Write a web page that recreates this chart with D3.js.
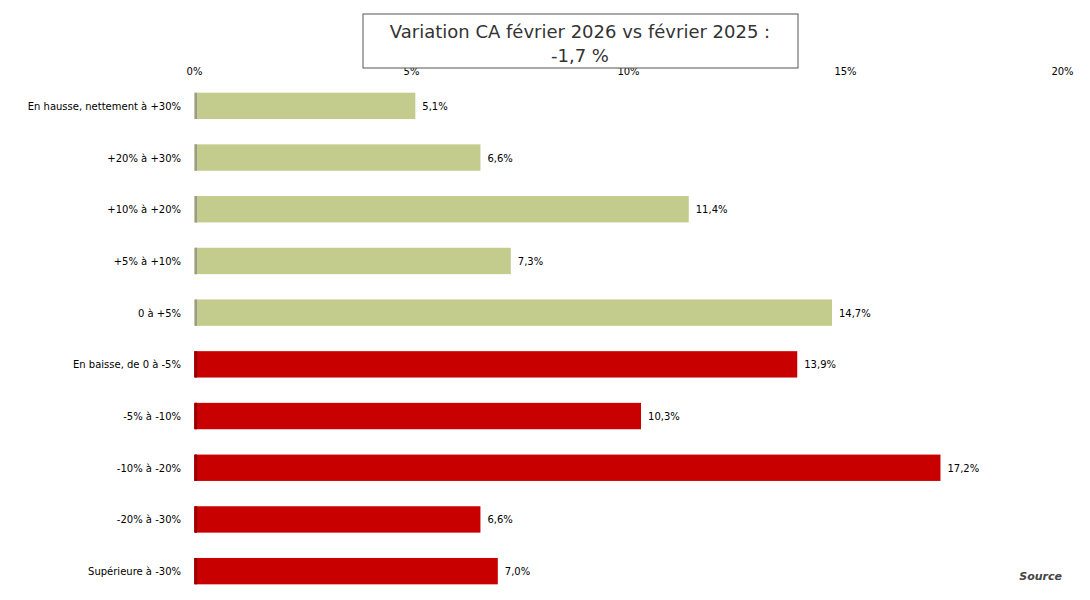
<!DOCTYPE html><html><head><meta charset="utf-8"><script src="https://cdn.jsdelivr.net/npm/d3@7"></script>
<style>body{margin:0;background:#fff}</style></head><body><svg id="c" width="1090" height="600"></svg><script>
const categories=["En hausse, nettement à +30%","+20% à +30%","+10% à +20%","+5% à +10%","0 à +5%","En baisse, de 0 à -5%","-5% à -10%","-10% à -20%","-20% à -30%","Supérieure à -30%"];
const values=[5.1,6.6,11.4,7.3,14.7,13.9,10.3,17.2,6.6,7.0];
const labels=["5,1%","6,6%","11,4%","7,3%","14,7%","13,9%","10,3%","17,2%","6,6%","7,0%"];
const ticks=[0,5,10,15,20];
const svg=d3.select("#c");
const x=d3.scaleLinear().domain([0,20]).range([194,1062]);
const y=d3.scaleBand().domain(categories).range([80,597]).paddingInner(0.49).paddingOuter(0.245);
svg.append("g").attr("transform","translate(0,80)").call(d3.axisTop(x).tickValues(ticks).tickFormat(d=>d+"%").tickSize(0))
 .call(g=>{g.select(".domain").remove();g.selectAll("text").attr("font-family","Verdana, DejaVu Sans").attr("font-size",10).attr("dy",-2);});
svg.selectAll("rect.b").data(values).join("rect").attr("x",x(0)).attr("y",(d,i)=>y(categories[i])).attr("width",d=>x(d)-x(0)).attr("height",y.bandwidth())
 .attr("fill",(d,i)=>i<5?"#c3cc8c":"#c80000");
svg.selectAll("line.s").data(values).join("line").attr("x1",x(0)+2).attr("x2",x(0)+2).attr("y1",(d,i)=>y(categories[i])).attr("y2",(d,i)=>y(categories[i])+y.bandwidth()).attr("stroke",(d,i)=>i<5?"#999":"#800").attr("stroke-width",2);
svg.selectAll("text.v").data(values).join("text").attr("x",d=>x(d)+7).attr("y",(d,i)=>y(categories[i])+y.bandwidth()/2+4)
 .text((d,i)=>labels[i]).attr("font-family","Verdana, DejaVu Sans").attr("font-size",10);
svg.selectAll("text.c").data(categories).join("text").attr("x",181).attr("y",d=>y(d)+y.bandwidth()/2+4).attr("text-anchor","end")
 .text(d=>d).attr("font-family","Verdana, DejaVu Sans").attr("font-size",10);
svg.append("rect").attr("x",363).attr("y",14).attr("width",435).attr("height",54).attr("fill","#fff").attr("stroke","#555");
svg.append("text").attr("x",580).attr("y",38).attr("text-anchor","middle").attr("font-family","DejaVu Sans").attr("font-size",18).attr("fill","#333").text("Variation CA février 2026 vs février 2025 :");
svg.append("text").attr("x",580).attr("y",62).attr("text-anchor","middle").attr("font-family","DejaVu Sans").attr("font-size",18).attr("fill","#333").text("-1,7 %");
svg.append("text").attr("x",1062).attr("y",580).attr("text-anchor","end").attr("font-family","DejaVu Sans").attr("font-size",11).attr("font-style","italic").attr("font-weight","bold").attr("fill","#444").text("Source");
</script></body></html>
